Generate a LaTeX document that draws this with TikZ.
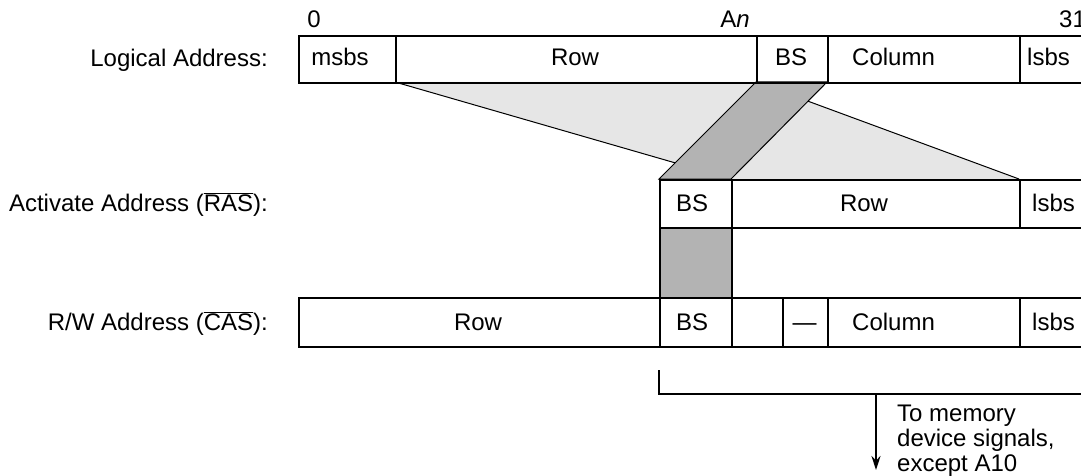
\documentclass[tikz,border=0pt]{standalone}
\usepackage{fontspec}
\setmainfont{Liberation Sans}
\usetikzlibrary{arrows.meta}
\begin{document}
\begin{tikzpicture}[x=1pt,y=-1pt,
  font=\fontsize{24pt}{25pt}\selectfont,
  cell/.style={draw, line width=1.8pt, inner sep=0pt, anchor=north west},
  txt/.style={inner sep=0pt, anchor=base},
  txtw/.style={inner sep=0pt, anchor=base west},
  lbl/.style={inner sep=0pt, anchor=base east},
  thinline/.style={line width=1pt},
  wire/.style={line width=1.8pt}]
\definecolor{lightg}{HTML}{E6E6E6}
\definecolor{darkg}{HTML}{B3B3B3}
\useasboundingbox (0,0) rectangle (1081,476);
\clip (0,0) rectangle (1081,476);

% mapping shapes
\fill[lightg] (395,82) -- (756,82) -- (1019,179) -- (731,179) -- cycle;
\draw[thinline] (395,82) -- (731,179);
\draw[thinline] (756,82) -- (1019,179);
\filldraw[fill=darkg, thinline] (756,82) -- (827,82) -- (731,179) -- (659,179) -- cycle;

% Logical address
\node[cell, minimum width=97pt, minimum height=47pt] (lmsbs) at (298,35) {};
\node[cell, minimum width=361pt, minimum height=47pt] (lrow) at (395,35) {};
\node[cell, minimum width=71pt, minimum height=47pt] (lbs) at (756,35) {};
\node[cell, minimum width=192pt, minimum height=47pt] (lcol) at (827,35) {};
\node[cell, minimum width=90pt, minimum height=47pt] (llsb) at (1019,35) {};
\node[txt] (tmsbs) at (340,66) {msbs};
\node[txt] (trow) at (575,66) {Row};
\node[txt] (tbs) at (791,66) {BS};
\node[txtw] (tcol) at (852,66) {Column};
\node[txtw] (tlsb) at (1027,66) {lsbs};

% bit numbers
\node[txt] (n0) at (314,28) {0};
\node[txt] (nAn) at (735,28) {A\textit{n}};
\node[txtw] (n31) at (1059,28) {31};

% Activate address
\node[cell, minimum width=72pt, minimum height=48pt] (abs) at (659,179) {};
\node[cell, minimum width=288pt, minimum height=48pt] (arow) at (731,179) {};
\node[cell, minimum width=90pt, minimum height=48pt] (alsb) at (1019,179) {};
\node[cell, fill=darkg, minimum width=72pt, minimum height=70pt] (agap) at (659,227) {};
\node[txt] (tabs) at (692,211.5) {BS};
\node[txt] (tarow) at (864,211.5) {Row};
\node[txtw] (talsb) at (1032,211.5) {lsbs};

% R/W address
\node[cell, minimum width=361pt, minimum height=49pt] (rrow) at (298,297) {};
\node[cell, minimum width=72pt, minimum height=49pt] (rbs) at (659,297) {};
\node[cell, minimum width=51pt, minimum height=49pt] (rgap) at (731,297) {};
\node[cell, minimum width=45pt, minimum height=49pt] (rdash) at (782,297) {};
\node[cell, minimum width=192pt, minimum height=49pt] (rcol) at (827,297) {};
\node[cell, minimum width=90pt, minimum height=49pt] (rlsb) at (1019,297) {};
\node[txt] (trrow) at (478,330) {Row};
\node[txt] (trbs) at (692,330) {BS};
\node[txt] (trdash) at (804.5,330) {---};
\node[txtw] (trcol) at (852,330) {Column};
\node[txtw] (trlsb) at (1032,330) {lsbs};

% row labels
\node[lbl] (L1) at (268,67) {Logical Address:};
\node[lbl] (L2) at (268,211.5) {Activate Address (\(\overline{\mbox{RAS}}\)):};
\node[lbl] (L3) at (268,330) {R/W Address (\(\overline{\mbox{CAS}}\)):};

% bracket and arrow
\coordinate (b1) at (659,370);
\coordinate (b2) at (659,394);
\coordinate (b3) at (1100,394);
\coordinate (a1) at (876,394);
\coordinate (a2) at (876,470);
\draw[wire] (b1) -- (b2) -- (b3);
\draw[wire, -{Stealth[length=14pt,width=9pt]}] (a1) -- (a2);
\node[inner sep=0pt, anchor=north west, align=left] (note) at (897,405)
  {To memory\\device signals,\\except A10};
\end{tikzpicture}
\end{document}
